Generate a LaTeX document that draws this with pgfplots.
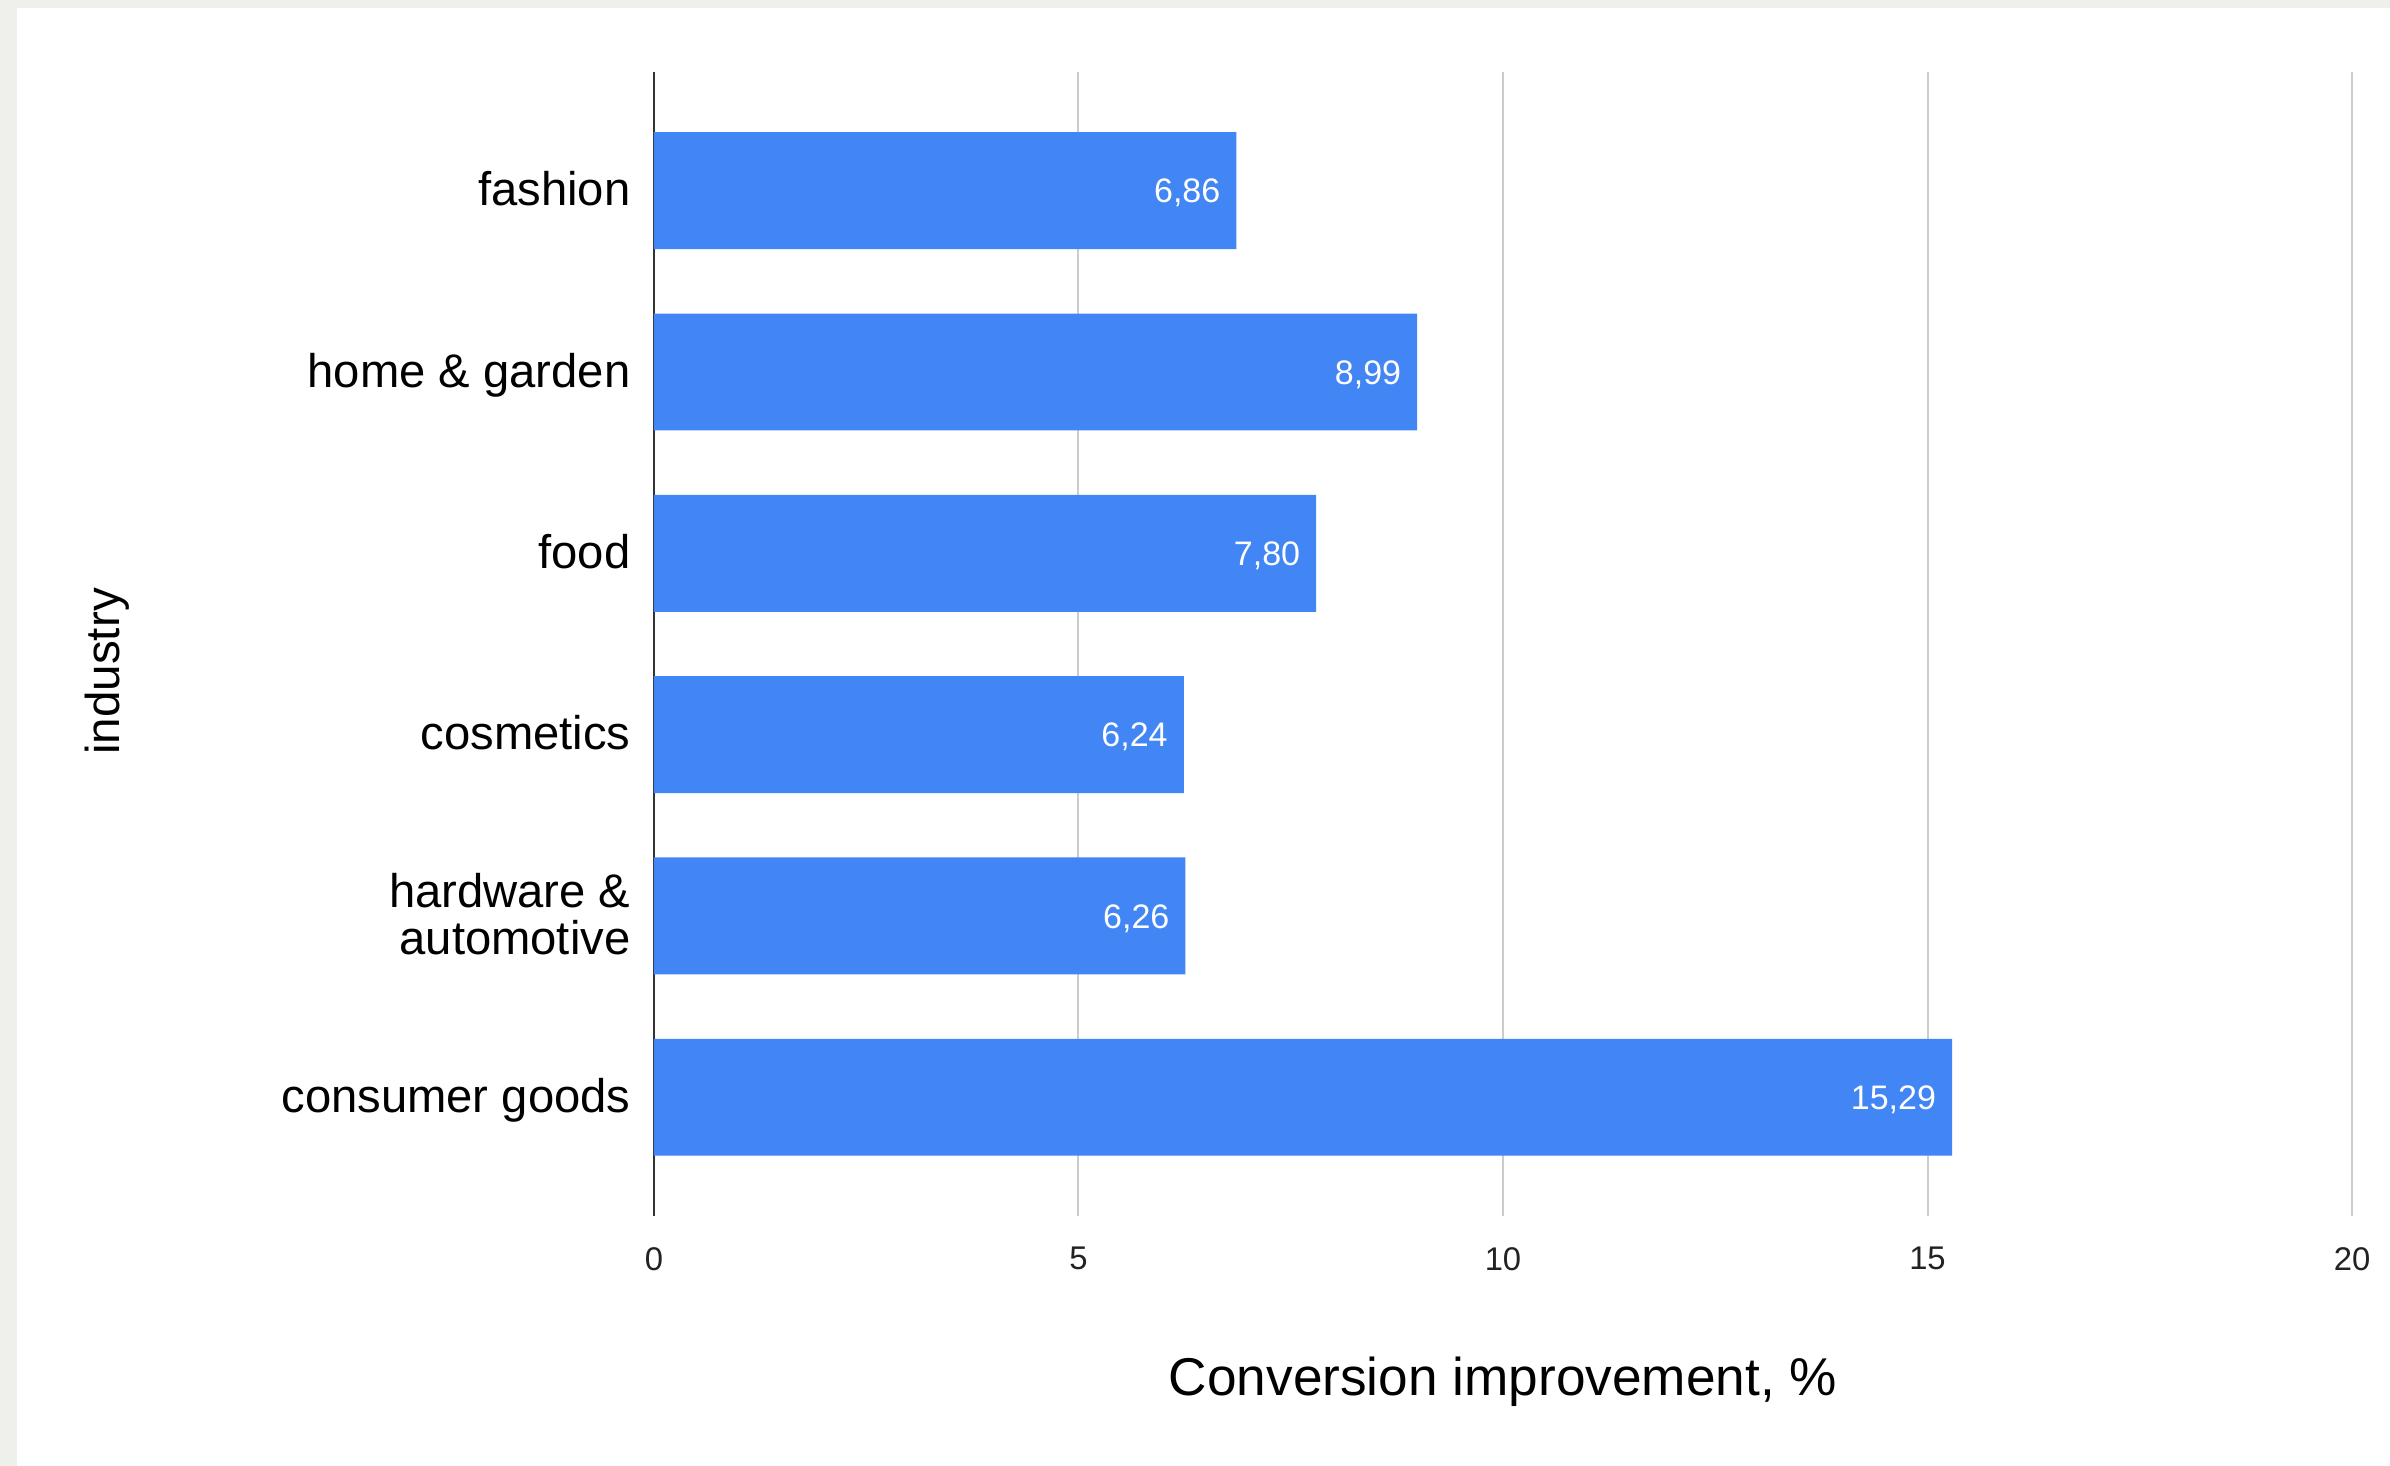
\documentclass[border=0pt]{standalone}
\usepackage{fontspec}
\setmainfont{Liberation Sans}
\usepackage{pgfplots}
\pgfplotsset{compat=1.18}
\definecolor{barblue}{HTML}{4285F4}
\definecolor{gridgray}{HTML}{CCCCCC}
\definecolor{framegray}{HTML}{EFF0EB}
\definecolor{axisdark}{HTML}{333333}
\definecolor{txt}{HTML}{222222}
\begin{document}
\begin{tikzpicture}
\useasboundingbox (-163.5pt,-62.5pt) rectangle (434pt,304pt);
\fill[framegray] (-163.5pt,-62.5pt) rectangle (434pt,304pt);
\fill[white] (-159.25pt,-62.5pt) rectangle (434pt,302pt);
\begin{axis}[at={(0,0)}, anchor=south west, scale only axis,
  width=424.5pt, height=286pt,
  xbar, bar width=0.645,
  xmin=0, xmax=20, ymin=-0.655, ymax=5.655, y dir=reverse,
  xtick={0,5,10,15,20}, ytick={0,1,2,3,4,5},
  yticklabels={fashion, \raisebox{0pt}[\height][0pt]{home \& garden}, food, cosmetics, {hardware \&\\automotive}, \raisebox{0pt}[\height][0pt]{consumer goods}},
  /pgf/number format/assume math mode=true,
  axis line style={draw=none},
  major tick length=0,
  xmajorgrids, grid style={gridgray, line width=0.5pt},
  extra x ticks={0}, extra x tick labels={},
  extra x tick style={grid style={axisdark, line width=0.6pt}, major tick length=0},
  yticklabel style={font=\fontsize{11.8}{11.6}\selectfont, align=right, text=black, xshift=-2.35pt, yshift=0.45pt},
  xticklabel style={font=\fontsize{8.2}{10}\selectfont, text=txt, yshift=-4.3pt},
  xlabel={Conversion improvement, \%},
  xlabel style={at={(axis description cs:0.5,-0.145)}, anchor=center, font=\fontsize{13.3}{16}\selectfont, text=black},
  ylabel={industry},
  ylabel style={at={(axis description cs:-0.3221,0.4760)}, anchor=center, font=\fontsize{11.9}{14}\selectfont, text=black},
]
\addplot[fill=barblue, draw=none, point meta=x,
  nodes near coords={\pgfmathprintnumber[fixed,fixed zerofill,precision=2,use comma,assume math mode=true]{\pgfplotspointmeta}},
  nodes near coords style={anchor=east, text=white, font=\fontsize{8.5}{10}\selectfont, xshift=-0.5pt, yshift=-0.6pt}]
  coordinates {(6.86,0) (8.99,1) (7.80,2) (6.24,3) (6.26,4) (15.29,5)};
\end{axis}
\end{tikzpicture}
\end{document}
